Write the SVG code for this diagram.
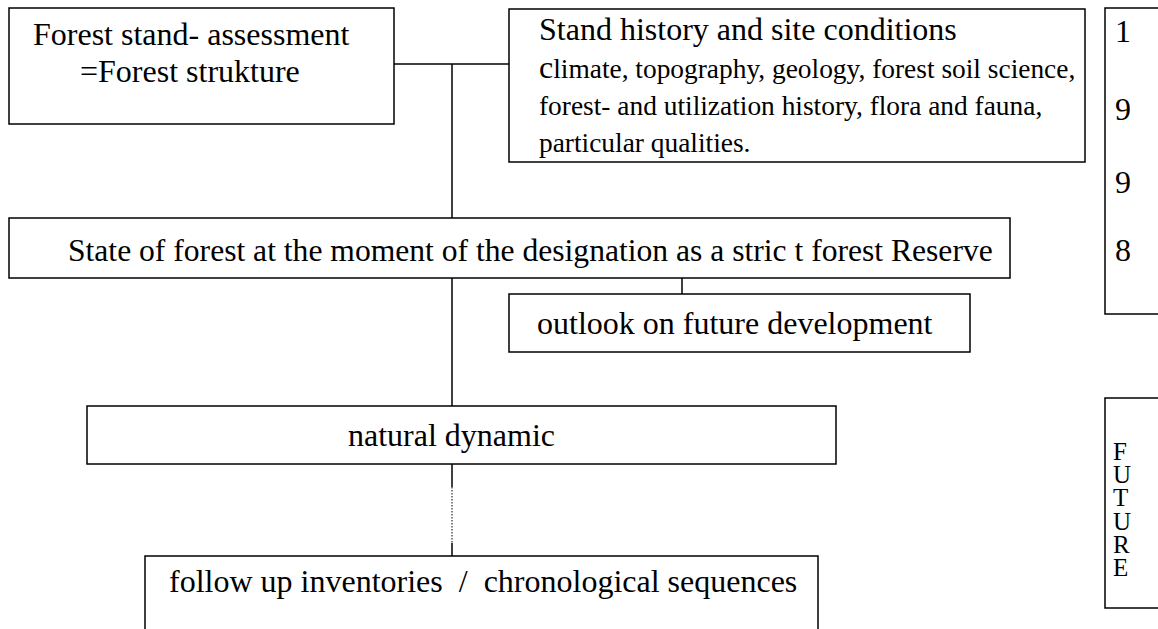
<svg xmlns="http://www.w3.org/2000/svg" width="1158" height="629" viewBox="0 0 1158 629">
<style>
.box{fill:#fff;stroke:#000;stroke-width:1.5}
.t{font-family:"Liberation Serif","Times New Roman",serif;font-size:32px;fill:#000}
.st{font-family:"Liberation Serif","Times New Roman",serif;font-size:31.6px;fill:#000}
.s{font-family:"Liberation Serif","Times New Roman",serif;font-size:27.4px;fill:#000}
.v{font-family:"Liberation Serif","Times New Roman",serif;font-size:25px;fill:#000}
.ln{stroke:#000;stroke-width:1.5;fill:none}
.dot{stroke:#000;stroke-width:1;stroke-dasharray:1.5 1.5;fill:none}
</style>
<rect width="1158" height="629" fill="#fff"/>
<g id="connectors">
<line class="ln" x1="394" y1="64" x2="509" y2="64"/>
<line class="ln" x1="452" y1="64" x2="452" y2="218"/>
<line class="ln" x1="452" y1="278" x2="452" y2="414"/>
<line class="ln" x1="682" y1="278" x2="682" y2="294"/>
<line class="ln" x1="452" y1="456" x2="452" y2="487"/>
<line class="dot" x1="452" y1="487" x2="452" y2="543"/>
<line class="ln" x1="452" y1="543" x2="452" y2="563"/>
</g>
<g id="assessment">
<rect class="box" x="9" y="8" width="385" height="116"/>
<text class="t" x="33" y="45">Forest stand- assessment</text>
<text class="t" x="80" y="82">=Forest strukture</text>
</g>
<g id="history">
<rect class="box" x="509" y="9" width="576" height="153"/>
<text class="t" x="539" y="40">Stand history and site conditions</text>
<text class="s" x="539" y="78"><tspan font-size="32">c</tspan>limate, topography, geology, forest soil science,</text>
<text class="s" x="539" y="115">forest- and utilization history, flora and fauna,</text>
<text class="s" x="539" y="152">particular qualities.</text>
</g>
<g id="year">
<rect class="box" x="1105" y="8" width="70" height="306"/>
<text class="t"><tspan x="1115" y="42">1</tspan><tspan x="1115" y="120">9</tspan><tspan x="1115" y="193">9</tspan><tspan x="1115" y="261">8</tspan></text>
</g>
<g id="state">
<rect class="box" x="9" y="218" width="1001" height="60"/>
<text class="st" x="68" y="261">State of forest at the moment of the designation as a stric t forest Reserve</text>
</g>
<g id="outlook">
<rect class="box" x="509" y="294" width="461" height="58"/>
<text class="t" x="537" y="334">outlook on future development</text>
</g>
<g id="future">
<rect class="box" x="1105" y="398" width="70" height="210"/>
<text class="v"><tspan x="1113" y="460">F</tspan><tspan x="1113" y="483.2">U</tspan><tspan x="1113" y="506.4">T</tspan><tspan x="1113" y="529.6">U</tspan><tspan x="1113" y="552.8">R</tspan><tspan x="1113" y="576">E</tspan></text>
</g>
<g id="natural">
<rect class="box" x="87" y="406" width="749" height="58"/>
<text class="t" x="348" y="446">natural dynamic</text>
</g>
<g id="followup">
<rect class="box" x="145" y="556" width="673" height="90"/>
<text class="t" x="169" y="592" xml:space="preserve">follow up inventories  /  chronological sequences</text>
</g>
</svg>
